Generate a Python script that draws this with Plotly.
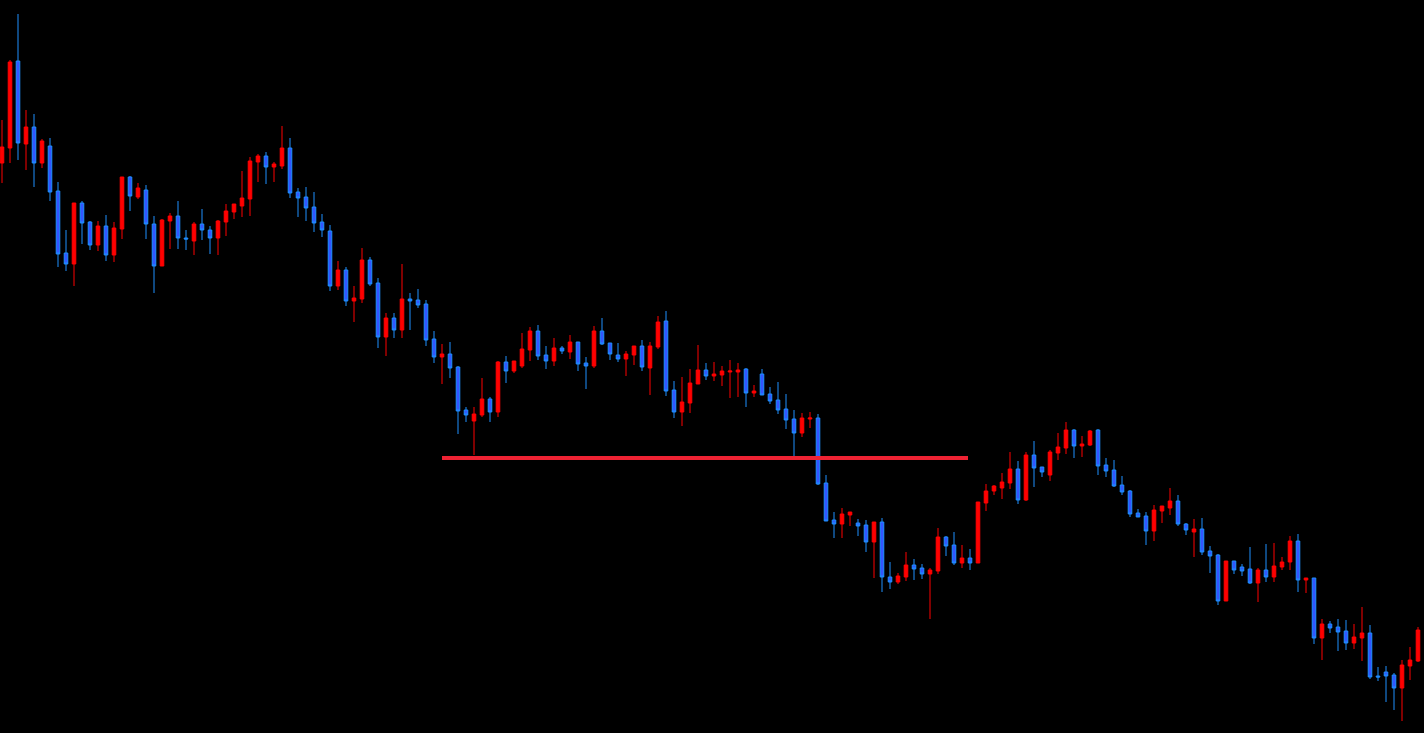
import plotly.graph_objects as go

# Price data (one candle per bar, index 0..177)
opens = [570,585,672,589,606,570,587,542,480,469,530,511,488,507,478,504,556,536,543,509,
         467,512,517,495,492,509,503,495,511,521,527,534,571,577,566,567,585,541,536,526,
         511,502,447,463,432,434,473,450,396,415,403,434,433,429,394,376,379,366,323,312,
         318,334,321,371,362,367,383,402,378,372,385,381,391,370,367,402,390,378,374,378,
         387,365,386,412,343,321,330,349,363,357,358,361,361,364,340,359,339,333,324,314,
         300,314,315,250,213,209,218,210,208,191,211,156,151,156,168,165,159,162,196,188,
         170,175,170,230,242,245,250,264,233,278,266,258,280,285,303,287,288,303,268,263,
         248,242,220,217,202,222,225,232,209,201,204,182,178,132,172,166,164,150,163,156,
         166,171,192,153,155,95,109,106,102,90,95,100,57,61,58,45,67,72]
highs = [613,673,719,623,619,594,595,551,503,530,532,512,512,518,511,556,557,550,548,517,
         514,520,532,503,511,524,507,513,529,529,562,576,579,581,571,607,595,545,546,541,
         519,508,472,466,447,485,476,455,420,420,469,440,444,433,402,389,391,367,326,326,
         355,336,372,377,372,400,406,408,387,395,387,398,391,376,407,415,390,390,382,387,
         393,391,417,422,352,356,364,388,370,371,367,373,370,365,348,364,346,351,339,323,
         320,321,319,258,221,225,221,214,213,211,215,171,160,181,174,169,165,205,197,201,
         188,184,231,249,248,260,281,272,281,292,266,283,300,311,304,297,303,304,275,273,
         257,243,224,221,228,227,245,238,210,214,215,187,179,172,172,169,186,165,189,190,
         176,197,199,155,155,114,112,114,113,109,126,108,66,67,60,73,86,106]
lows = [550,570,573,563,546,565,532,466,462,447,489,483,482,472,471,494,522,534,494,440,
        467,484,484,483,478,493,479,478,497,514,516,517,551,549,551,564,535,516,512,501,
        496,442,443,427,411,430,447,385,377,395,395,403,425,387,370,349,355,299,311,278,
        316,311,316,350,360,365,372,373,364,367,379,374,362,344,365,388,373,371,357,368,
        362,338,384,337,315,307,320,349,353,352,347,335,336,326,336,338,329,319,304,276,
        296,305,248,212,195,195,207,197,181,155,141,144,149,152,153,154,114,159,177,168,
        165,163,170,222,238,234,244,229,232,246,256,252,273,279,275,276,287,258,256,246,
        238,216,216,188,192,210,218,207,198,176,178,160,128,132,159,157,149,131,151,151,
        163,163,141,140,89,73,100,82,83,84,72,54,52,31,23,12,53,71]
closes = [586,671,590,606,570,592,541,479,469,530,510,488,507,478,505,556,537,545,509,467,
          513,517,495,494,509,503,495,512,522,529,535,572,577,566,569,585,540,535,525,510,
          503,447,463,432,435,473,449,396,415,403,434,432,428,393,376,379,365,322,318,319,
          334,321,371,362,372,384,402,377,372,385,382,391,369,367,402,389,379,374,379,387,
          366,387,411,342,321,331,350,363,357,359,362,362,363,340,342,338,332,323,313,300,
          315,315,249,212,209,219,221,207,191,211,156,151,157,168,164,159,163,196,187,170,
          175,170,231,242,247,251,264,233,278,265,261,281,286,303,287,289,302,267,262,247,
          241,219,216,202,223,227,232,209,203,204,181,177,132,172,163,162,150,163,156,167,
          171,192,153,155,95,109,105,101,90,96,100,56,56,57,45,68,73,103]
bars = list(range(len(opens)))

# Horizontal support level (drawn between two bar indices)
level_price = 275
level_start_bar = 55
level_end_bar = 120.75

fig = go.Figure()
fig.add_trace(go.Candlestick(
    x=bars, open=opens, high=highs, low=lows, close=closes,
    increasing=dict(line=dict(color="#FF0000", width=1), fillcolor="#FF0000"),
    decreasing=dict(line=dict(color="#1E90FF", width=1), fillcolor="#3355FF"),
    whiskerwidth=0, hoverinfo="skip", showlegend=False,
))
fig.add_trace(go.Scatter(
    x=[level_start_bar, level_end_bar], y=[level_price, level_price],
    mode="lines", line=dict(color="#EE2233", width=4),
    hoverinfo="skip", showlegend=False,
))

fig.update_layout(
    width=1424, height=733,
    margin=dict(l=0, r=0, t=0, b=0),
    paper_bgcolor="black", plot_bgcolor="black",
    boxgap=0.36,
    xaxis=dict(visible=False, range=[-0.25, 177.75], rangeslider=dict(visible=False),
               showgrid=False, zeroline=False),
    yaxis=dict(visible=False, range=[0, 733], showgrid=False, zeroline=False),
    showlegend=False,
)

fig.write_html(
    "out.html",
    config={"displayModeBar": False},
    post_script="document.body.style.margin='0';document.body.style.background='black';"
                "document.body.style.overflow='hidden';",
)
